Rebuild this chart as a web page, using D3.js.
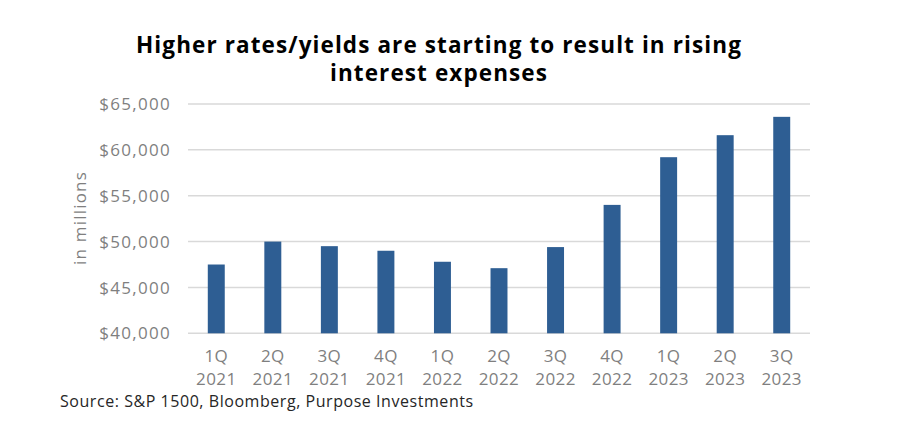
<!DOCTYPE html>
<html><head><meta charset="utf-8">
<script src="https://cdn.jsdelivr.net/npm/d3@7"></script>
<style>
html,body{margin:0;padding:0;background:#fff;}
svg{display:block;}
</style></head>
<body>
<svg id="chart" width="920" height="424"></svg>
<script>
const quarters = ["1Q","2Q","3Q","4Q","1Q","2Q","3Q","4Q","1Q","2Q","3Q"];
const years = ["2021","2021","2021","2021","2022","2022","2022","2022","2023","2023","2023"];
const values = [47500, 50000, 49500, 49000, 47800, 47100, 49400, 54000, 59200, 61600, 63600];
const yTicks = [40000, 45000, 50000, 55000, 60000, 65000];
const titleLines = ["Higher rates/yields are starting to result in rising", "interest expenses"];
const yAxisTitle = "in millions";
const sourceText = "Source: S&P 1500, Bloomberg, Purpose Investments";

(function(){
const svg = d3.select("#chart");
const pLeft = 188, pRight = 810, pTop = 104, pBottom = 333.3;
const x = d3.scaleBand().domain(values.map((d,i)=>i)).range([pLeft,pRight]).paddingInner(0.7).paddingOuter(0.35);
const y = d3.scaleLinear().domain([40000,65000]).range([pBottom,pTop]);

const tickFont = "'Open Sans', sans-serif";

svg.append("g").selectAll("line").data(yTicks).join("line")
  .attr("x1",pLeft).attr("x2",pRight)
  .attr("y1",d=>y(d)).attr("y2",d=>y(d))
  .attr("stroke","#d9d9d9").attr("stroke-width",1.5);

const fmt = d3.format("$,");
svg.append("g").selectAll("text").data(yTicks).join("text")
  .attr("x",171).attr("y",d=>y(d)).attr("dy","0.36em")
  .attr("text-anchor","end")
  .attr("font-family",tickFont).attr("font-size",17).attr("letter-spacing",1.3)
  .attr("fill","#7f7f7f").text(d=>fmt(d));

svg.append("g").selectAll("rect").data(values).join("rect")
  .attr("x",(d,i)=>x(i)).attr("width",x.bandwidth())
  .attr("y",d=>y(d)).attr("height",d=>y(40000)-y(d))
  .attr("fill","#2E5E93");

const xl = svg.append("g").selectAll("text").data(quarters).join("text")
  .attr("text-anchor","middle")
  .attr("font-family",tickFont).attr("font-size",17).attr("letter-spacing",0.4)
  .attr("fill","#7f7f7f");
xl.append("tspan").attr("x",(d,i)=>x(i)+x.bandwidth()/2).attr("y",362).text(d=>d);
xl.append("tspan").attr("x",(d,i)=>x(i)+x.bandwidth()/2).attr("y",385).text((d,i)=>years[i]);

svg.append("text")
  .attr("transform","translate(86,218) rotate(-90)")
  .attr("text-anchor","middle")
  .attr("font-family",tickFont).attr("font-size",17).attr("letter-spacing",1.2)
  .attr("fill","#7f7f7f").text(yAxisTitle);

svg.append("g").selectAll("text").data(titleLines).join("text")
  .attr("x",439).attr("y",(d,i)=>52.5+i*28.5)
  .attr("text-anchor","middle")
  .attr("font-family",tickFont).attr("font-weight","bold").attr("font-size",22.5).attr("letter-spacing",1.1)
  .attr("fill","#000").text(d=>d);

svg.append("text").attr("x",60).attr("y",407)
  .attr("font-family",tickFont).attr("font-size",16).attr("letter-spacing",0.55)
  .attr("fill","#262626").text(sourceText);
})();
</script>
</body></html>
